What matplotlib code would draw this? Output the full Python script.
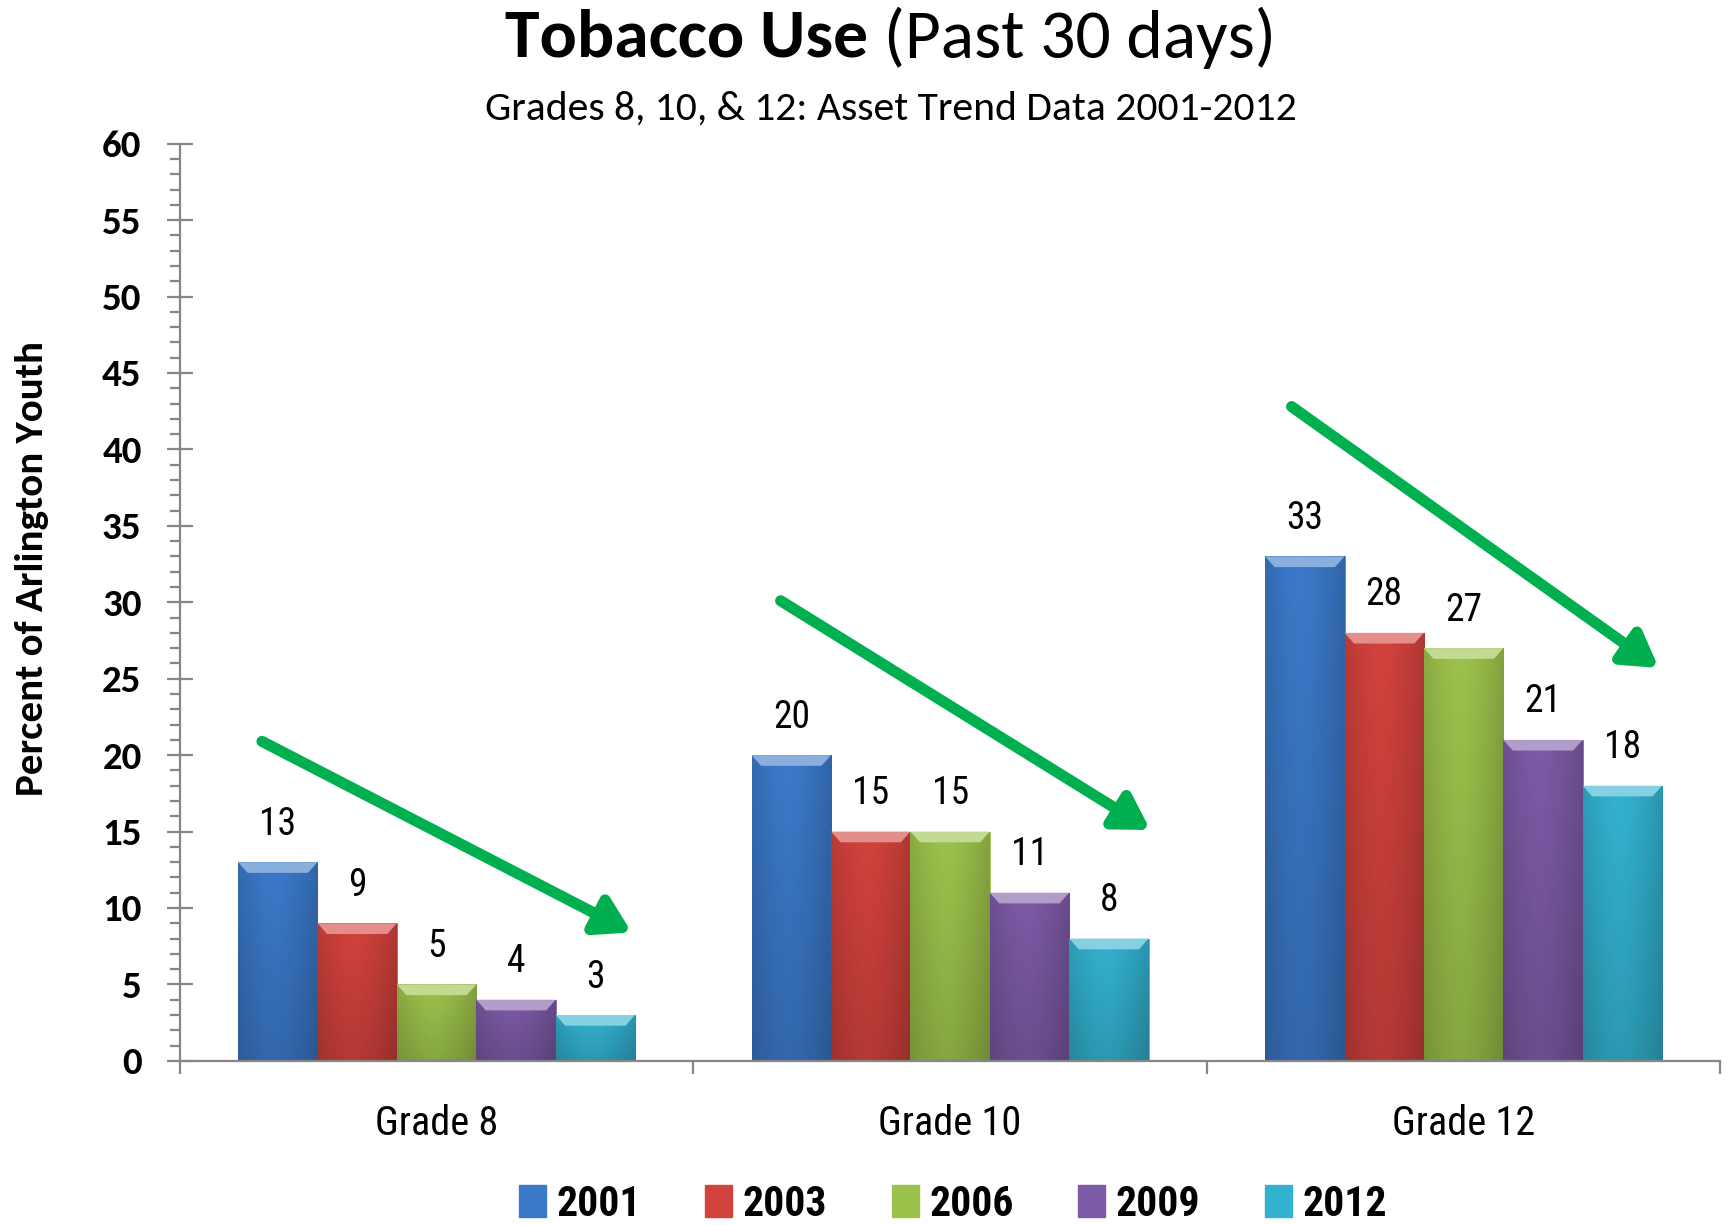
import numpy as np
import matplotlib
matplotlib.use('Agg')
import matplotlib.pyplot as plt
import matplotlib.patches as mpatches
from matplotlib.colors import to_rgb

# data
grades = ['Grade 8', 'Grade 10', 'Grade 12']
years = ['2001', '2003', '2006', '2009', '2012']
v2001 = [13, 20, 33]
v2003 = [9, 15, 28]
v2006 = [5, 15, 27]
v2009 = [4, 11, 21]
v2012 = [3, 8, 18]
colores = ['#3B79C9', '#D2423D', '#9DC24B', '#7D5AA6', '#33B2D0']

# trend arrows (start, end) in data coords
flechas = [((-0.34, 20.9), (0.38, 8.4)),
           ((0.67, 30.1), (1.39, 15.1)),
           ((1.665, 42.8), (2.38, 25.7))]

NARROW = ['Roboto Condensed', 'Archivo Narrow', 'DejaVu Sans']
CAL = ['Carlito', 'Lato', 'DejaVu Sans']

fig = plt.figure(figsize=(17.29, 12.25), dpi=100)
ax = fig.add_axes([0.104, 0.134, 0.891, 0.7487])

valores = [v2001, v2003, v2006, v2009, v2012]
x = np.arange(len(grades))
ancho = 0.1546


def pintar_barra(ax, rect, color):
    # gradient fill clipped to the bar + bevel on top
    c = np.array(to_rgb(color))
    x0, y0 = rect.get_x(), rect.get_y()
    w, h = rect.get_width(), rect.get_height()
    cols = np.linspace(0, 1, 40)
    fila = 1 - 0.2 * np.abs(cols - 0.45) ** 1.5 * 2
    filas = np.linspace(1.0, 0.86, 30)[:, None]
    img = c[None, None, :] * fila[None, :, None] * filas[:, :, None]
    img = np.clip(img, 0, 1)
    im = ax.imshow(img, extent=[x0, x0 + w, y0, y0 + h], aspect='auto',
                   origin='upper', zorder=2, interpolation='bilinear')
    im.set_clip_path(rect)
    bev = min(0.7, h * 0.5)
    claro = np.clip(c + (1 - c) * 0.4, 0, 1)
    m = w * 0.12
    top = mpatches.Polygon([[x0, y0 + h], [x0 + w, y0 + h],
                            [x0 + w - m, y0 + h - bev], [x0 + m, y0 + h - bev]],
                           closed=True, facecolor=claro, edgecolor='none', zorder=3)
    ax.add_patch(top)


for i, (serie, col, anio) in enumerate(zip(valores, colores, years)):
    pos = x + (i - 2) * ancho
    barras = ax.bar(pos, serie, width=ancho, color=col, edgecolor=col,
                    linewidth=0.5, zorder=1, label=anio)
    for rect, v in zip(barras, serie):
        pintar_barra(ax, rect, col)
        ax.annotate(str(v), (rect.get_x() + rect.get_width() / 2, v),
                    xytext=(0, 14), textcoords='offset points',
                    ha='center', va='bottom', fontsize=27, family=NARROW)

for (x1, y1), (x2, y2) in flechas:
    ax.annotate('', xy=(x2, y2), xytext=(x1, y1),
                arrowprops=dict(arrowstyle='-|>,head_length=2.0,head_width=1.2',
                                color='#00B050', lw=8, shrinkA=0, shrinkB=0),
                zorder=5)

ax.set_xlim(-0.5, 2.5)
ax.set_ylim(0, 60)
ax.set_yticks(np.arange(0, 61, 5))
ax.set_yticks(np.arange(0, 61, 1), minor=True)
ax.set_xticks(x)
ax.set_xticklabels(grades, fontsize=29, family=NARROW)
ax.set_xticks([-0.5, 0.5, 1.5, 2.5], minor=True)

for s in ['top', 'right']:
    ax.spines[s].set_visible(False)
for s in ['left', 'bottom']:
    ax.spines[s].set_color('#868686')
    ax.spines[s].set_linewidth(1.6)
    ax.spines[s].set_zorder(4)

ax.tick_params(axis='y', which='major', direction='inout', length=19, width=1.6,
               color='#868686', pad=18, labelsize=28)
ax.tick_params(axis='y', which='minor', direction='out', length=7, width=1.6,
               color='#868686')
ax.tick_params(axis='x', which='major', length=0, pad=31)
ax.tick_params(axis='x', which='minor', direction='out', length=9, width=1.6,
               color='#868686')
for t in ax.get_yticklabels():
    t.set_fontweight('bold')
    t.set_family(CAL)

ax.set_ylabel('Percent of Arlington Youth', fontsize=29.5, fontweight='bold',
              family=CAL)
ax.yaxis.set_label_coords(-0.085, 0.537)

# title: bold part + regular part
fig.text(0.502, 0.969, 'Tobacco Use', ha='right', va='center', fontsize=50,
         fontweight='bold', family=CAL)
fig.text(0.502, 0.969, ' (Past 30 days)', ha='left', va='center', fontsize=50,
         family=CAL)
fig.text(0.515, 0.911, 'Grades 8, 10, & 12: Asset Trend Data 2001-2012',
         ha='center', va='center', fontsize=30, family=CAL)

handles = [mpatches.Patch(facecolor=c, edgecolor=c, label=a)
           for c, a in zip(colores, years)]
leg = fig.legend(handles=handles, loc='center', ncol=5,
                 bbox_to_anchor=(0.551, 0.017), frameon=False,
                 prop={'family': NARROW, 'weight': 'bold', 'size': 30},
                 handlelength=0.65, handleheight=0.8, handletextpad=0.25,
                 columnspacing=1.55)

fig.savefig('out.png', dpi=100)
